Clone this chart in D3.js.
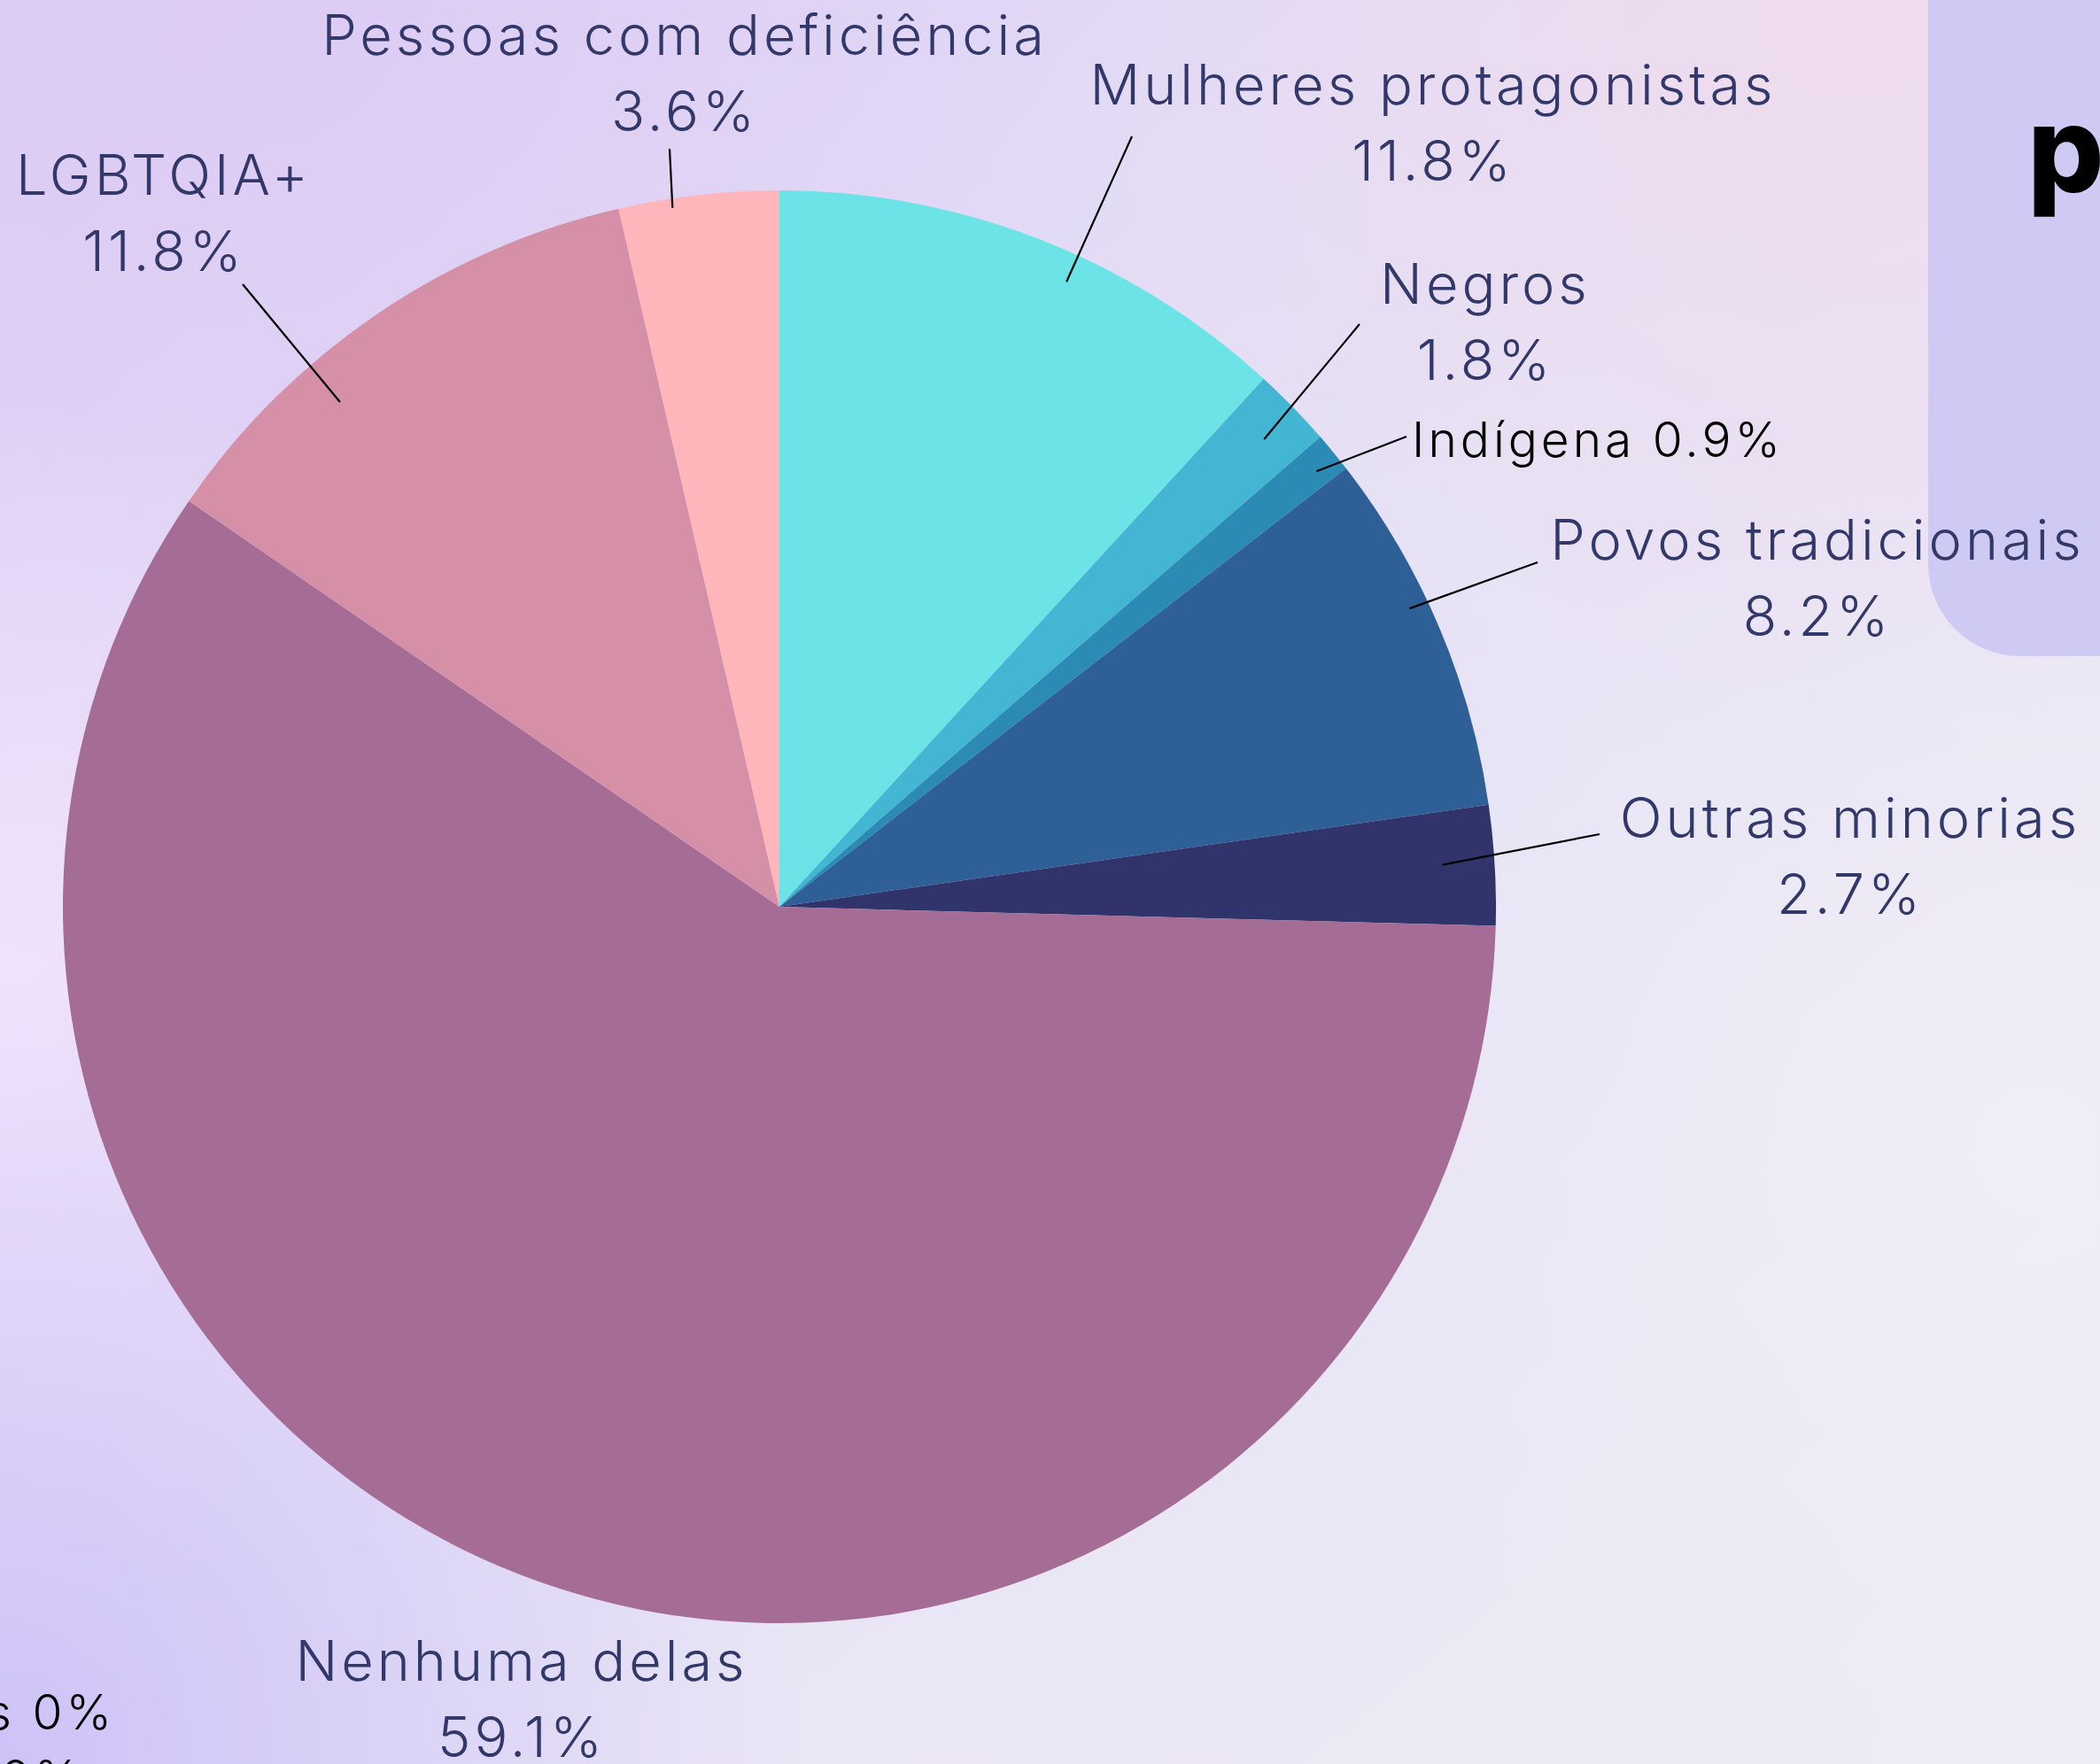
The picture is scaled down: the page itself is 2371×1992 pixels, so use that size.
<!DOCTYPE html>
<html>
<head>
<meta charset="utf-8">
<script src="https://cdn.jsdelivr.net/npm/d3@7"></script>
<style>
  html, body { margin: 0; padding: 0; overflow: hidden; }
  body { width: 2371px; height: 1992px; }
</style>
</head>
<body>
<div id="chart"></div>
<script>
// dados do gráfico
const categories = ["Mulheres protagonistas", "Negros", "Indígena", "Povos tradicionais",
  "Outras minorias", "Pessoas idosas", "Imigrantes", "Nenhuma delas", "LGBTQIA+", "Pessoas com deficiência"];
const values = [11.8, 1.8, 0.9, 8.2, 2.7, 0, 0, 59.1, 11.8, 3.6];
const sliceColors = ["#6ce4e7", "#42b6d3", "#2b8bb5", "#2e5f96", "#31346b",
  "#8a6aa0", "#7a6aa8", "#a56d95", "#d590a8", "#ffb6ba"];

// posição dos rótulos (layout): t = fração do ângulo dentro da fatia, rf = fração do raio
const labelLayout = {
  "Mulheres protagonistas": { x: 1618, y: 118, end: [1278, 154], t: 0.58, rf: 0.96 },
  "Negros": { x: 1677, y: 343, end: [1535, 366], t: 0.54, rf: 0.94 },
  "Indígena": { x: 1594, y: 516, end: [1588, 493], t: 0.6, rf: 0.965, inline: true },
  "Povos tradicionais": { x: 2052, y: 632, end: [1736, 635], t: 0.42, rf: 0.973 },
  "Outras minorias": { x: 2089, y: 946, end: [1806, 942], t: 0.47, rf: 0.927 },
  "Pessoas idosas": { x: 130, y: 1953, inline: true, anchor: "end" },
  "Imigrantes": { x: 94, y: 2027, inline: true, anchor: "end" },
  "Nenhuma delas": { x: 589, y: 1898 },
  "LGBTQIA+": { x: 185, y: 220, end: [274, 321], t: 0.34, rf: 0.934 },
  "Pessoas com deficiência": { x: 773, y: 62, end: [756, 168], t: 0.33, rf: 0.987 }
};

const W = 2371, H = 1992;
const cx = 880, cy = 1024, R = 809;

const data = categories.map((c, i) => ({ name: c, value: values[i], color: sliceColors[i] }));

const svg = d3.select("#chart").append("svg")
  .attr("width", W)
  .attr("height", H);

// fundo com gradientes
const defs = svg.append("defs");
const base = defs.append("linearGradient").attr("id", "bg")
  .attr("x1", 0).attr("y1", 0).attr("x2", 1).attr("y2", 1);
base.append("stop").attr("offset", 0).attr("stop-color", "#ddcdf5");
base.append("stop").attr("offset", 0.5).attr("stop-color", "#e6e3f6");
base.append("stop").attr("offset", 1).attr("stop-color", "#efebf4");

function radial(id, fx, fy, r, color, op) {
  const g = defs.append("radialGradient").attr("id", id)
    .attr("gradientUnits", "userSpaceOnUse")
    .attr("cx", fx).attr("cy", fy).attr("r", r);
  g.append("stop").attr("offset", 0).attr("stop-color", color).attr("stop-opacity", op);
  g.append("stop").attr("offset", 1).attr("stop-color", color).attr("stop-opacity", 0);
}
radial("gPink", 2100, 0, 900, "#f0daec", 0.9);
radial("gLeft", 0, 1150, 700, "#f3e4fd", 0.9);
radial("gBottom", 0, 1992, 900, "#cdc0f8", 0.95);
radial("gTop", 300, 0, 900, "#dcc9f4", 0.6);
radial("gRight", 2300, 1300, 800, "#f0eef6", 0.8);

svg.append("rect").attr("width", W).attr("height", H).attr("fill", "url(#bg)");
["gTop", "gPink", "gLeft", "gBottom", "gRight"].forEach(id => {
  svg.append("rect").attr("width", W).attr("height", H).attr("fill", `url(#${id})`);
});

// painel à direita
svg.append("rect")
  .attr("x", 2177).attr("y", -200)
  .attr("width", 400).attr("height", 941)
  .attr("rx", 104)
  .attr("fill", "#cfcaf3");

svg.append("text")
  .attr("x", 2289).attr("y", 217)
  .style("font-family", "Inter, sans-serif")
  .style("font-weight", 800)
  .style("font-size", "136px")
  .attr("fill", "#000")
  .text("p");

// pizza
const pie = d3.pie().sort(null).value(d => d.value);
const arcs = pie(data);
const arc = d3.arc().innerRadius(0).outerRadius(R);

const g = svg.append("g").attr("transform", `translate(${cx},${cy})`);

g.selectAll("path.slice")
  .data(arcs.filter(d => d.data.value > 0))
  .enter().append("path")
  .attr("class", "slice")
  .attr("d", arc)
  .attr("fill", d => d.data.color);

// linhas de chamada
arcs.forEach(d => {
  const lay = labelLayout[d.data.name];
  if (!lay || !lay.end || d.data.value === 0) return;
  const a = d.startAngle + (d.endAngle - d.startAngle) * lay.t;
  const r = R * lay.rf;
  svg.append("line")
    .attr("x1", cx + r * Math.sin(a)).attr("y1", cy - r * Math.cos(a))
    .attr("x2", lay.end[0]).attr("y2", lay.end[1])
    .attr("stroke", "#000")
    .attr("stroke-width", 2.2);
});

// rótulos
const fmt = v => (v === 0 ? "0" : v.toFixed(1)) + "%";
arcs.forEach(d => {
  const lay = labelLayout[d.data.name];
  if (!lay) return;
  if (lay.inline) {
    svg.append("text")
      .attr("x", lay.x).attr("y", lay.y)
      .attr("text-anchor", lay.anchor || "start")
      .style("font-family", "Inter, sans-serif")
      .style("font-weight", 300)
      .style("font-size", "55px")
      .style("letter-spacing", "4px")
      .attr("fill", "#000")
      .text(`${d.data.name} ${fmt(d.data.value)}`);
  } else {
    const t = svg.append("text")
      .attr("text-anchor", "middle")
      .style("font-family", "Inter, sans-serif")
      .style("font-weight", 300)
      .style("font-size", "63px")
      .style("letter-spacing", "4px")
      .attr("fill", "#33386b");
    t.append("tspan").attr("x", lay.x).attr("y", lay.y).text(d.data.name);
    t.append("tspan").attr("x", lay.x).attr("y", lay.y + 86).text(fmt(d.data.value));
  }
});
</script>
</body>
</html>
